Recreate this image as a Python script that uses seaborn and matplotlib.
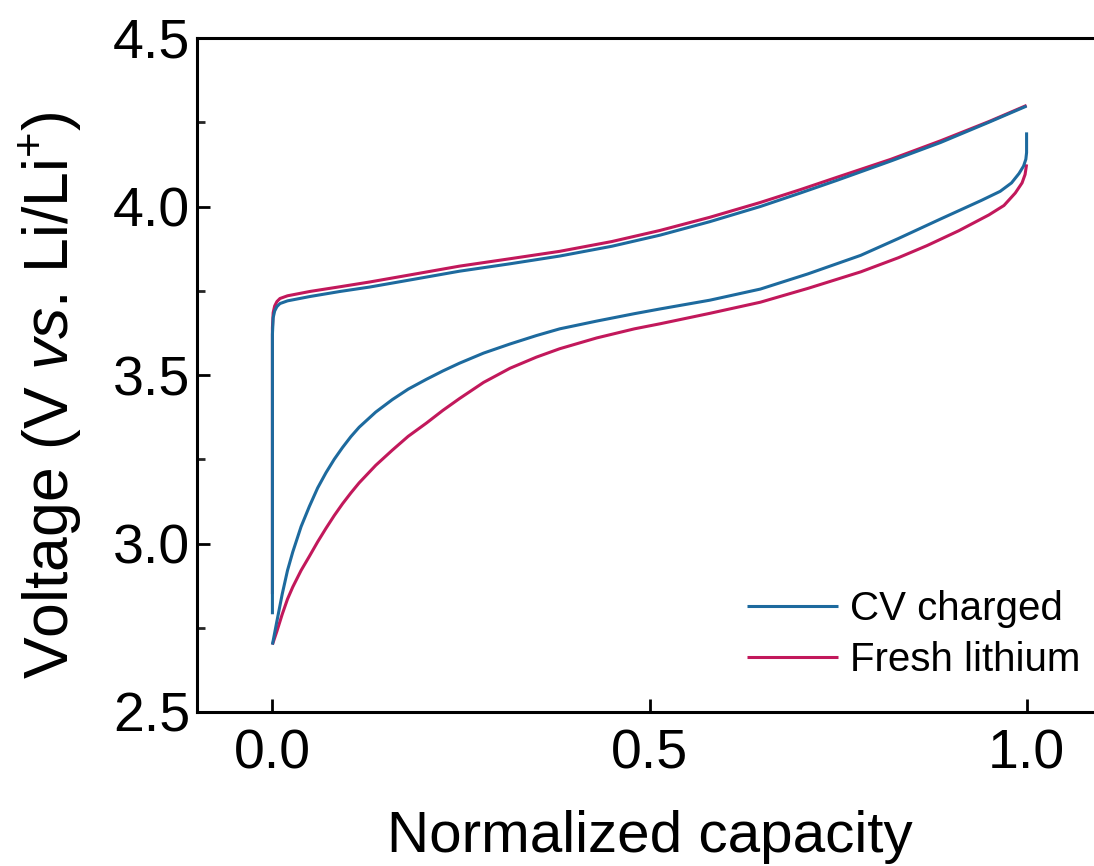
import numpy as np
import pandas as pd
import matplotlib
matplotlib.use("Agg")
import matplotlib.pyplot as plt
import seaborn as sns
from matplotlib.ticker import MultipleLocator

# ---------------- data ----------------
cv_charge_cap = [0.0, 0.0, 0.001, 0.003, 0.006, 0.01, 0.02, 0.05, 0.09, 0.129, 0.19,
                 0.248, 0.315, 0.381, 0.45, 0.514, 0.58, 0.647, 0.7, 0.749, 0.82,
                 0.886, 0.95, 1.0]
cv_charge_v = [2.79, 3.62, 3.67, 3.69, 3.703, 3.712, 3.72, 3.733, 3.748, 3.761, 3.785,
               3.808, 3.83, 3.853, 3.882, 3.915, 3.955, 4.0, 4.04, 4.078, 4.135,
               4.19, 4.25, 4.298]

cv_discharge_cap = [1.0, 1.0, 0.999, 0.996, 0.99, 0.98, 0.965, 0.94, 0.886, 0.83,
                    0.78, 0.71, 0.647, 0.58, 0.514, 0.48, 0.43, 0.381, 0.35, 0.315,
                    0.28, 0.248, 0.226, 0.204, 0.18, 0.159, 0.137, 0.115, 0.104,
                    0.093, 0.082, 0.071, 0.06, 0.049, 0.038, 0.027, 0.02, 0.013,
                    0.006, 0.0]
cv_discharge_v = [4.22, 4.16, 4.14, 4.12, 4.098, 4.07, 4.045, 4.018, 3.963, 3.905,
                  3.855, 3.80, 3.755, 3.722, 3.696, 3.682, 3.66, 3.637, 3.617, 3.592,
                  3.565, 3.535, 3.512, 3.487, 3.458, 3.427, 3.39, 3.345, 3.317,
                  3.285, 3.25, 3.21, 3.165, 3.11, 3.05, 2.975, 2.92, 2.85,
                  2.77, 2.70]

fresh_charge_cap = [0.0, 0.0, 0.001, 0.003, 0.006, 0.01, 0.02, 0.05, 0.09, 0.129, 0.19,
                    0.248, 0.315, 0.381, 0.45, 0.514, 0.58, 0.647, 0.7, 0.749, 0.82,
                    0.886, 0.95, 1.0]
fresh_charge_v = [2.85, 3.64, 3.685, 3.705, 3.718, 3.727, 3.735, 3.748, 3.762, 3.776,
                  3.80, 3.823, 3.845, 3.867, 3.896, 3.929, 3.968, 4.012, 4.05, 4.087,
                  4.14, 4.195, 4.252, 4.30]

fresh_discharge_cap = [1.0, 0.998, 0.994, 0.985, 0.97, 0.95, 0.91, 0.868, 0.83, 0.78,
                       0.71, 0.647, 0.58, 0.514, 0.48, 0.43, 0.381, 0.35, 0.315,
                       0.28, 0.248, 0.226, 0.204, 0.18, 0.159, 0.137, 0.115, 0.104,
                       0.093, 0.082, 0.071, 0.06, 0.049, 0.038, 0.027, 0.02, 0.013,
                       0.006, 0.0]
fresh_discharge_v = [4.125, 4.095, 4.07, 4.04, 4.003, 3.975, 3.928, 3.884, 3.848, 3.806,
                     3.757, 3.716, 3.683, 3.652, 3.637, 3.61, 3.578, 3.553, 3.52,
                     3.478, 3.43, 3.395, 3.357, 3.318, 3.277, 3.232, 3.18, 3.15,
                     3.118, 3.083, 3.045, 3.005, 2.962, 2.92, 2.871, 2.835, 2.79,
                     2.74, 2.70]

series_names = ["CV charged", "Fresh lithium"]
colors = {"CV charged": "#1D6A9E", "Fresh lithium": "#C2185B"}

xticks = [0.0, 0.5, 1.0]
xticklabels = ["0.0", "0.5", "1.0"]
yticks = [2.5, 3.0, 3.5, 4.0, 4.5]
yticklabels = ["2.5", "3.0", "3.5", "4.0", "4.5"]

# ---------------- build table ----------------
frames = []
def add(cap, v, name, seg):
    frames.append(pd.DataFrame({"cap": cap, "V": v, "Sample": name, "seg": seg}))

add(fresh_charge_cap, fresh_charge_v, "Fresh lithium", "fc")
add(fresh_discharge_cap, fresh_discharge_v, "Fresh lithium", "fd")
add(cv_charge_cap, cv_charge_v, "CV charged", "cc")
add(cv_discharge_cap, cv_discharge_v, "CV charged", "cd")
df = pd.concat(frames, ignore_index=True)

# ---------------- style ----------------
sns.set_theme(style="ticks")
plt.rcParams["font.family"] = ["Liberation Sans", "DejaVu Sans"]
plt.rcParams["mathtext.fontset"] = "custom"
plt.rcParams["mathtext.rm"] = "Liberation Sans"
plt.rcParams["mathtext.it"] = "Liberation Sans:italic"
plt.rcParams["mathtext.bf"] = "Liberation Sans:bold"
plt.rcParams["text.color"] = "black"
plt.rcParams["axes.labelcolor"] = "black"

fig = plt.figure(figsize=(10.94, 8.66), dpi=100)
ax = fig.add_axes([197 / 1094, (866 - 712) / 866, 905 / 1094, 674 / 866])

sns.lineplot(data=df, x="cap", y="V", hue="Sample", units="seg",
             estimator=None, sort=False,
             hue_order=["Fresh lithium", "CV charged"], palette=colors,
             linewidth=2.2, ax=ax)
for ln in ax.get_lines():
    ln.set_solid_joinstyle("round")
    ln.set_solid_capstyle("butt")

ax.set_xlim(-0.1, 1.1)
ax.set_ylim(2.5, 4.5)
ax.set_xticks(xticks)
ax.set_xticklabels(xticklabels)
ax.set_yticks(yticks)
ax.set_yticklabels(yticklabels)
ax.yaxis.set_minor_locator(MultipleLocator(0.25))

for sp in ax.spines.values():
    sp.set_linewidth(2.2)
    sp.set_color("black")
ax.spines["right"].set_visible(True)
ax.spines["top"].set_visible(True)

ax.tick_params(axis="both", which="major", direction="in", length=9.5, width=2.0,
               labelsize=40, color="black", labelcolor="black")
ax.tick_params(axis="x", which="major", pad=12)
ax.tick_params(axis="y", which="major", pad=5)
ax.tick_params(axis="y", which="minor", direction="in", length=5.5, width=2.0)
ax.tick_params(top=False, right=False, which="both")

ax.set_xlabel("Normalized capacity", fontsize=42, labelpad=21, color="black")
ax.set_ylabel(r"Voltage (V $\mathit{vs}$. Li/Li$^{+}$)", fontsize=45, color="black")
ax.yaxis.set_label_coords(-0.125, 0.47)

handles, labels = ax.get_legend_handles_labels()
order = [labels.index(n) for n in series_names]
leg = ax.legend([handles[i] for i in order], [labels[i] for i in order],
                loc="lower right", bbox_to_anchor=(0.976, 0.049), frameon=False,
                fontsize=29, handlelength=2.25, handletextpad=0.3,
                labelspacing=0.33, borderpad=0, borderaxespad=0)
for t in leg.get_texts():
    t.set_color("black")

fig.savefig("out.png", dpi=100)
